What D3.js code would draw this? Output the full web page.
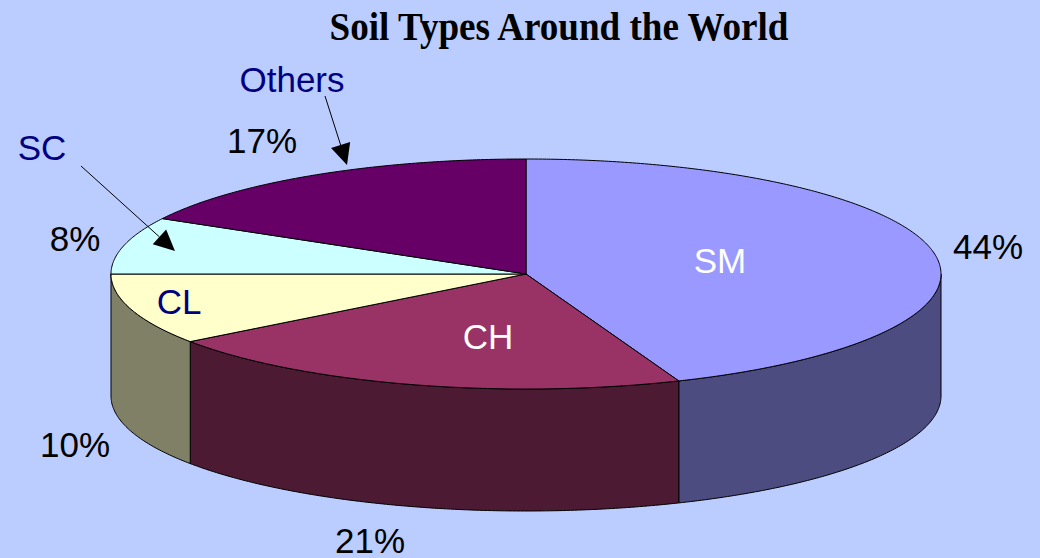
<!DOCTYPE html>
<html>
<head>
<meta charset="utf-8">
<script src="https://cdn.jsdelivr.net/npm/d3@7"></script>
<style>
  html, body { margin: 0; padding: 0; background: #BBCCFF; }
  svg { display: block; }
</style>
</head>
<body>
<script>
// Chart data
const categories = ["SM", "CH", "CL", "SC", "Others"];
const values = [44, 21, 10, 8, 17];
const percentLabels = ["44%", "21%", "10%", "8%", "17%"];

// Colours for top face and side wall of each slice
const topColors = ["#9999FF", "#993366", "#FFFFCC", "#CCFFFF", "#660066"];
const sideColors = ["#4C4C80", "#4D1A33", "#808066", "#668080", "#330033"];

// Label layout (centre of each text)
const nameStyle = [
  {x: 720, y: 273, fill: "#fff"},
  {x: 488, y: 349, fill: "#fff"},
  {x: 179, y: 314, fill: "#000080"},
  {x: 42, y: 160, fill: "#000080"},
  {x: 292, y: 92, fill: "#000080"}
];
const pctPos = [[988, 259], [370, 553], [75, 457], [75, 251], [262, 153]];

const W = 1040, H = 558;
const cx = 526, cy = 274, rx = 415, ry = 115, depth = 122;

const svg = d3.select("body").append("svg")
  .attr("width", W)
  .attr("height", H);

svg.append("rect").attr("width", W).attr("height", H).attr("fill", "#BBCCFF");

// Title
svg.append("text")
  .attr("x", 559)
  .attr("y", 40)
  .attr("text-anchor", "middle")
  .attr("font-family", "'Liberation Serif', 'Times New Roman', serif")
  .attr("font-weight", "bold")
  .attr("font-size", 40)
  .attr("textLength", 459)
  .attr("lengthAdjust", "spacingAndGlyphs")
  .text("Soil Types Around the World");

// angles: 0 at top, clockwise
const pie = d3.pie().sort(null).value(d => d)(values);

const px = a => cx + rx * Math.sin(a);
const py = (a, dz = 0) => cy - ry * Math.cos(a) + dz;

function arcPoints(a0, a1, dz) {
  const n = Math.max(2, Math.ceil(Math.abs(a1 - a0) / 0.01));
  const pts = [];
  for (let i = 0; i <= n; i++) {
    const a = a0 + (a1 - a0) * i / n;
    pts.push([px(a), py(a, dz)]);
  }
  return pts;
}

const line = d3.line();

// side walls (front half only)
const g = svg.append("g");
pie.forEach((d, i) => {
  const a0 = Math.max(d.startAngle, Math.PI / 2);
  const a1 = Math.min(d.endAngle, Math.PI * 1.5);
  if (a1 <= a0) return;
  const pts = arcPoints(a0, a1, 0).concat(arcPoints(a1, a0, depth));
  g.append("path")
    .attr("d", line(pts) + "Z")
    .attr("fill", sideColors[i])
    .attr("stroke", "#000")
    .attr("stroke-width", 1)
    .attr("stroke-linejoin", "round");
});

// top faces
pie.forEach((d, i) => {
  const pts = [[cx, cy]].concat(arcPoints(d.startAngle, d.endAngle, 0));
  g.append("path")
    .attr("d", line(pts) + "Z")
    .attr("fill", topColors[i])
    .attr("stroke", "#000")
    .attr("stroke-width", 1)
    .attr("stroke-linejoin", "round");
});

const sans = "'Liberation Sans', Arial, sans-serif";

// category names
categories.forEach((c, i) => {
  svg.append("text")
    .attr("x", nameStyle[i].x)
    .attr("y", nameStyle[i].y)
    .attr("text-anchor", "middle")
    .attr("font-family", sans)
    .attr("font-size", 35)
    .attr("fill", nameStyle[i].fill)
    .text(c);
});

// percentages
percentLabels.forEach((t, i) => {
  svg.append("text")
    .attr("x", pctPos[i][0])
    .attr("y", pctPos[i][1])
    .attr("text-anchor", "middle")
    .attr("font-family", sans)
    .attr("font-size", 35)
    .attr("fill", "#000")
    .text(t);
});

// leader arrows for SC and Others
const arrows = [
  {from: [81, 166], to: [175, 251]},
  {from: [325, 96], to: [347, 165]}
];
arrows.forEach(a => {
  const [x0, y0] = a.from, [x1, y1] = a.to;
  const ang = Math.atan2(y1 - y0, x1 - x0);
  const len = 21, half = 10;
  const bx = x1 - len * Math.cos(ang), by = y1 - len * Math.sin(ang);
  svg.append("line")
    .attr("x1", x0).attr("y1", y0)
    .attr("x2", bx).attr("y2", by)
    .attr("stroke", "#000")
    .attr("stroke-width", 1);
  svg.append("path")
    .attr("d", line([
      [x1, y1],
      [bx + half * Math.sin(ang), by - half * Math.cos(ang)],
      [bx - half * Math.sin(ang), by + half * Math.cos(ang)]
    ]) + "Z")
    .attr("fill", "#000");
});
</script>
</body>
</html>
